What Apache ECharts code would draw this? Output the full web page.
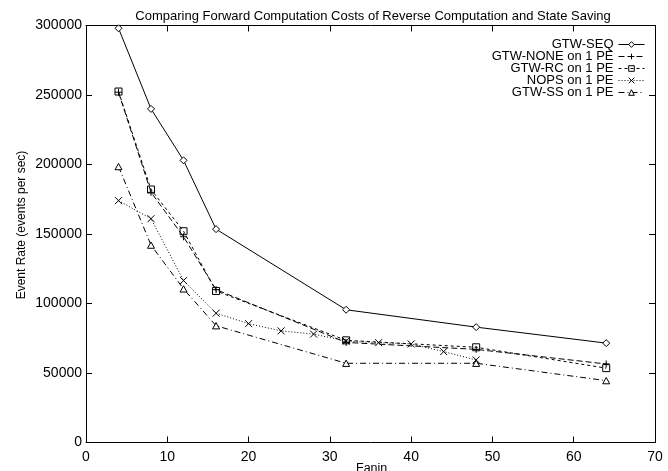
<!DOCTYPE html>
<html>
<head>
<meta charset="utf-8">
<script src="https://cdn.jsdelivr.net/npm/echarts@6/dist/echarts.min.js"></script>
<style>html,body{margin:0;padding:0;background:#fff;}#c{width:668px;height:471px;}</style>
</head>
<body>
<div id="c"></div>
<script>
var titleText = 'Comparing Forward Computation Costs of Reverse Computation and State Saving';
var xName = 'Fanin';
var yName = 'Event Rate (events per sec)';
var seriesNames = ['GTW-SEQ', 'GTW-NONE on 1 PE', 'GTW-RC on 1 PE', 'NOPS on 1 PE', 'GTW-SS on 1 PE'];
var fanin = [4, 8, 12, 16, 32, 48, 64];
var seqVals = [298000, 240000, 203000, 153500, 95500, 83000, 71500];
var noneVals = [252000, 180000, 148000, 110000, 72000, 67000, 56500];
var rcVals = [252500, 182000, 152000, 109000, 73500, 68500, 53500];
var nopsFanin = [4, 8, 12, 16, 20, 24, 28, 32, 36, 40, 44, 48];
var nopsVals = [174000, 161000, 116500, 93000, 85500, 80300, 78000, 73000, 71800, 70900, 65400, 59400];
var ssVals = [198500, 142000, 110500, 84000, 57000, 57000, 44500];
var xTicks = [0, 10, 20, 30, 40, 50, 60, 70];
var yTicks = [0, 50000, 100000, 150000, 200000, 250000, 300000];

function pairs(xs, ys) { return xs.map(function (x, i) { return [x, ys[i]]; }); }

var FONT = 'Liberation Sans';
var GL = 86, GR = 13, GT = 25.5, GB = 28.5;

var SYM = {
  diamond: 'path://M5,0L10,5L5,10L0,5Z',
  plus: 'path://M5,0L5,10M0,5L10,5',
  square: 'path://M0,0L10,0L10,10L0,10Z',
  cross: 'path://M0,0L10,10M10,0L0,10',
  triangle: 'path://M5,0L10,9L0,9Z'
};

var chart = echarts.init(document.getElementById('c'), null, {renderer: 'canvas'});

function mkSeries(name, data, symbol, dash, open) {
  return {
    name: name, type: 'line', data: data, xAxisIndex: 0, yAxisIndex: 0,
    symbol: symbol, symbolSize: 7, symbolKeepAspect: true,
    lineStyle: {color: '#000', width: 1, type: dash},
    itemStyle: {color: open ? 'rgba(0,0,0,0)' : '#fff', borderColor: '#000', borderWidth: 1},
    emphasis: {disabled: true},
    animation: false
  };
}

var axisCommon = {
  type: 'value', min: 0,
  axisLine: {show: true, onZero: false, lineStyle: {color: '#000', width: 1}},
  axisTick: {show: true, inside: true, length: 6, lineStyle: {color: '#000'}},
  splitLine: {show: false}
};

var option = {
  backgroundColor: '#fff',
  animation: false,
  title: {
    text: titleText, left: 368, top: 5, textAlign: 'center',
    textStyle: {fontFamily: FONT, fontSize: 13, fontWeight: 'normal', color: '#000'}
  },
  grid: {left: GL, right: GR, top: GT, bottom: GB, containLabel: false},
  legend: {
    orient: 'vertical', right: 23, top: 38, align: 'right', padding: 0,
    itemWidth: 26, itemHeight: 7, itemGap: -1,
    lineStyle: {width: 1, color: '#000'},
    itemStyle: {borderWidth: 1, borderColor: '#000'},
    textStyle: {fontFamily: FONT, fontSize: 13, color: '#000', lineHeight: 12, padding: [0, 0, 0, 0]},
    data: seriesNames
  },
  xAxis: [
    Object.assign({}, axisCommon, {
      position: 'bottom', max: 70, interval: 10,
      axisLabel: {fontFamily: FONT, fontSize: 14, color: '#000', margin: 8}
    }),
    Object.assign({}, axisCommon, {
      position: 'top', max: 70, interval: 10,
      axisLabel: {show: false}
    })
  ],
  yAxis: [
    Object.assign({}, axisCommon, {
      position: 'left', max: 300000, interval: 50000,
      axisLabel: {fontFamily: FONT, fontSize: 14, color: '#000', margin: 4, formatter: function (v) { return String(v); }}
    }),
    Object.assign({}, axisCommon, {
      position: 'right', max: 300000, interval: 50000,
      axisLabel: {show: false}
    })
  ],
  graphic: [
    {type: 'text', left: 356, top: 462, style: {text: xName, font: '12.5px "Liberation Sans"', fill: '#000'}},
    {type: 'text', x: 22, y: 225, rotation: Math.PI / 2, style: {text: yName, font: '12px "Liberation Sans"', fill: '#000', align: 'center', verticalAlign: 'middle'}}
  ],
  series: [
    mkSeries(seriesNames[0], pairs(fanin, seqVals), SYM.diamond, 'solid', false),
    mkSeries(seriesNames[1], pairs(fanin, noneVals), SYM.plus, [6, 3], true),
    mkSeries(seriesNames[2], pairs(fanin, rcVals), SYM.square, [3, 3], true),
    mkSeries(seriesNames[3], pairs(nopsFanin, nopsVals), SYM.cross, [1, 2], true),
    mkSeries(seriesNames[4], pairs(fanin, ssVals), SYM.triangle, [6, 3, 1, 3], false)
  ]
};
chart.setOption(option);
</script>
</body>
</html>
